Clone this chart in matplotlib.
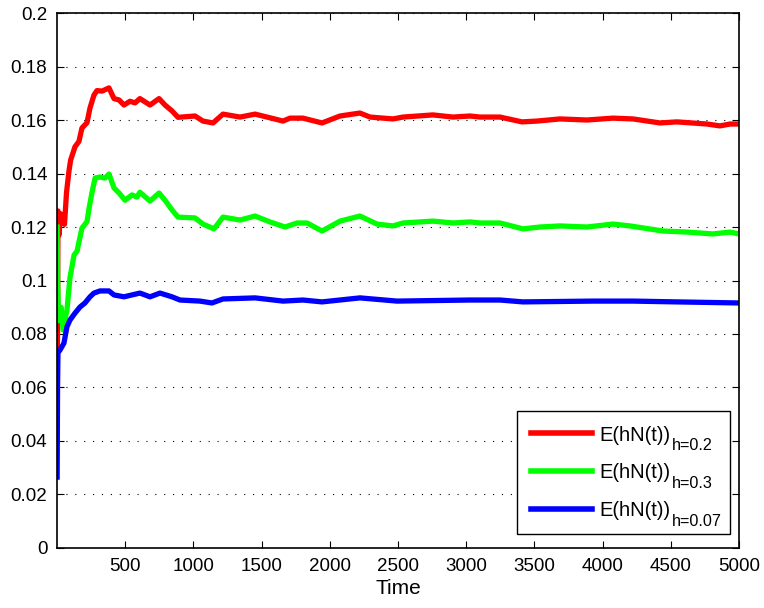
import matplotlib
matplotlib.use('Agg')
import matplotlib.pyplot as plt
from matplotlib.transforms import IdentityTransform

plt.rcParams['font.family'] = ['Liberation Sans', 'DejaVu Sans']

# Values
red_t = [1, 4, 7, 15, 25, 40, 55, 70, 88, 100, 132, 161, 183, 220, 242, 271, 293, 330,
         381, 418, 455, 491, 535, 572, 608, 682, 748, 792, 843, 887, 1012, 1070, 1144,
         1217, 1342, 1452, 1540, 1657, 1708, 1803, 1943, 2075, 2221, 2295, 2463, 2537,
         2756, 2903, 3028, 3101, 3248, 3409, 3519, 3687, 3885, 4076, 4223, 4421, 4545,
         4765, 4860, 4934, 5000]
red_v = [0.073, 0.080, 0.126, 0.117, 0.125, 0.122, 0.121, 0.133, 0.141, 0.145, 0.150,
         0.152, 0.157, 0.159, 0.1645, 0.1693, 0.171, 0.1708, 0.172, 0.168, 0.1675, 0.1656,
         0.167, 0.1664, 0.168, 0.1656, 0.168, 0.1656, 0.1634, 0.161, 0.1615, 0.1596,
         0.1589, 0.1622, 0.1611, 0.1622, 0.1611, 0.1596, 0.1607, 0.1607, 0.1589, 0.1615,
         0.1626, 0.1611, 0.1604, 0.1611, 0.1619, 0.1611, 0.1615, 0.1611, 0.1611, 0.1593,
         0.1596, 0.1604, 0.160, 0.1607, 0.1604, 0.1589, 0.1593, 0.1585, 0.1578, 0.1585,
         0.1585]

green_t = [1, 5, 12, 30, 44, 73, 95, 125, 147, 183, 220, 235, 257, 279, 315, 352, 381,
           418, 455, 499, 550, 586, 608, 682, 748, 792, 843, 887, 1012, 1070, 1151, 1217,
           1342, 1452, 1561, 1672, 1759, 1833, 1943, 2075, 2221, 2346, 2463, 2537, 2756,
           2903, 3028, 3101, 3248, 3416, 3541, 3687, 3885, 4076, 4201, 4443, 4619, 4809,
           4934, 5000]
green_v = [0.120, 0.100, 0.085, 0.090, 0.0815, 0.089, 0.101, 0.1095, 0.111, 0.1196,
           0.122, 0.127, 0.133, 0.1383, 0.1387, 0.1383, 0.1398, 0.1346, 0.1327, 0.130,
           0.132, 0.1312, 0.133, 0.1297, 0.1327, 0.130, 0.1264, 0.1237, 0.1234, 0.1211,
           0.1193, 0.1237, 0.1226, 0.1241, 0.1219, 0.120, 0.1215, 0.1215, 0.1185, 0.1222,
           0.1241, 0.1211, 0.1204, 0.1215, 0.1222, 0.1215, 0.1219, 0.1215, 0.1215, 0.1193,
           0.120, 0.1204, 0.120, 0.1211, 0.1204, 0.1185, 0.1181, 0.1174, 0.1181, 0.1174]

blue_t = [1, 4, 7, 22, 51, 73, 95, 132, 169, 205, 242, 271, 315, 381, 418, 491, 608, 682,
          755, 843, 902, 1048, 1136, 1217, 1452, 1657, 1803, 1943, 2221, 2493, 3028, 3248,
          3416, 3929, 4223, 4545, 5000]
blue_v = [0.0265, 0.060, 0.073, 0.074, 0.0766, 0.0827, 0.0852, 0.0878, 0.0901, 0.0916,
          0.0939, 0.0953, 0.0961, 0.0961, 0.0946, 0.0939, 0.0953, 0.0939, 0.0953, 0.0939,
          0.0927, 0.0923, 0.0916, 0.0931, 0.0935, 0.0923, 0.0927, 0.092, 0.0935, 0.0923,
          0.0927, 0.0927, 0.092, 0.0923, 0.0923, 0.092, 0.0916]

label_main = 'E(hN(t))'
label_subs = ['h=0.2', 'h=0.3', 'h=0.07']

x_ticks = [500, 1000, 1500, 2000, 2500, 3000, 3500, 4000, 4500, 5000]
y_ticks = [0, 0.02, 0.04, 0.06, 0.08, 0.1, 0.12, 0.14, 0.16, 0.18, 0.2]
y_tick_labels = ['0', '0.02', '0.04', '0.06', '0.08', '0.1', '0.12', '0.14', '0.16',
                 '0.18', '0.2']

#================================================
fig = plt.figure(figsize=(7.64, 6.08), dpi=100)
ax = fig.add_axes([0.0746, 0.0987, 0.8927, 0.8799])

# the legend gets an invisible placeholder of the right width;
# label and its subscript are written on top of it afterwards
placeholder = label_main + 'h=00'
ax.plot(red_t, red_v, color=(1, 0, 0), lw=3.8, label=placeholder, solid_joinstyle='round')
ax.plot(green_t, green_v, color=(0, 1, 0), lw=3.8, label=placeholder, solid_joinstyle='round')
ax.plot(blue_t, blue_v, color=(0, 0, 1), lw=3.8, label=placeholder, solid_joinstyle='round')

ax.set_xlim(0, 5000)
ax.set_ylim(0, 0.2)
ax.set_xticks(x_ticks)
ax.set_yticks(y_ticks)
ax.set_yticklabels(y_tick_labels)
ax.tick_params(direction='in', top=True, right=True, length=5, width=0.8,
               labelsize=13.5, pad=7)
ax.grid(axis='y', color='black', linestyle=(0, (1, 7)), linewidth=0.8)
for s in ax.spines.values():
    s.set_linewidth(1.2)

ax.set_xlabel('Time', fontsize=15, labelpad=3)

leg_fs = 14.5
leg = ax.legend(loc='lower right', bbox_to_anchor=(0.987, 0.026), borderaxespad=0,
                fontsize=leg_fs, handlelength=3.0, handletextpad=0.4, fancybox=False,
                framealpha=1, edgecolor='black', labelspacing=0.93, borderpad=0.7)
leg.get_frame().set_linewidth(1.0)
for line in leg.get_lines():
    line.set_linewidth(4)
for txt in leg.get_texts():
    txt.set_alpha(0)

# Real legend labels with subscripts
fig.canvas.draw()
renderer = fig.canvas.get_renderer()
fs_px = leg_fs * fig.dpi / 72
for txt, sub in zip(leg.get_texts(), label_subs):
    prop = txt.get_fontproperties()
    w_main, h_main, d_main = renderer.get_text_width_height_descent(label_main, prop, ismath=False)
    w_ph, h_ph, d_ph = renderer.get_text_width_height_descent(placeholder, prop, ismath=False)
    bb = txt.get_window_extent(renderer)
    baseline = bb.y0 + d_ph
    fig.text(bb.x0, baseline, label_main, fontsize=leg_fs, va='baseline', ha='left',
             transform=IdentityTransform())
    fig.text(bb.x0 + w_main + 1, baseline - 0.48 * fs_px, sub, fontsize=leg_fs * 0.8,
             va='baseline', ha='left', transform=IdentityTransform())

fig.savefig('out.png', dpi=100)
